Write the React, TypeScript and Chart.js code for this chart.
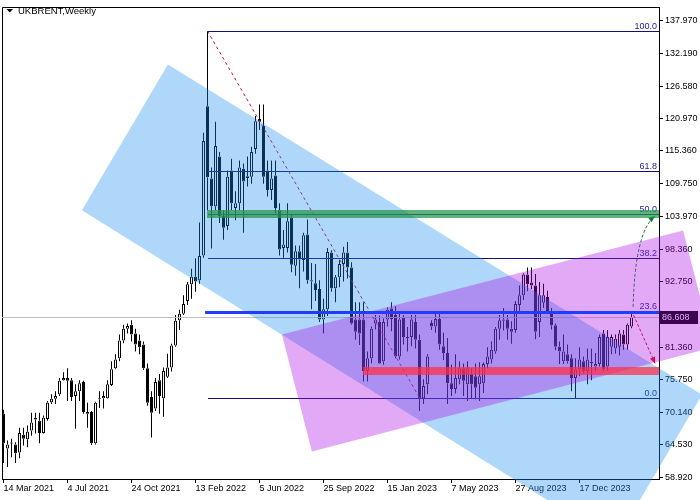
import React, { useEffect, useRef } from "react";
import { Chart, registerables } from "chart.js";
Chart.register(...registerables);

// ---- data (weekly UKBRENT, 14 Mar 2021 .. 17 Mar 2024) ----
const opens = [69.9,63.9,64.8,64.6,63.2,66.3,65.5,67.0,68.9,68.7,66.6,69.0,71.9,72.5,73.3,75.7,76.1,75.7,73.0,73.8,75.4,69.9,70.2,64.8,72.4,72.6,72.6,74.9,77.8,79.5,82.6,84.6,85.3,83.8,82.6,81.9,77.8,72.8,70.8,75.7,72.6,76.3,77.9,81.7,86.1,87.2,89.4,92.3,93.6,93.0,97.3,123.1,110.6,105.8,114.4,104.1,102.4,112.0,105.5,106.3,112.3,110.7,110.9,115.7,120.9,119.7,112.0,108.6,111.1,105.1,98.6,98.6,103.8,95.5,98.0,96.5,100.9,93.0,92.5,91.5,86.2,88.0,97.8,91.6,93.5,95.8,97.8,95.2,86.2,86.2,86.2,77.3,79.5,85.5,85.8,79.0,86.2,88.1,87.0,79.8,86.6,83.0,83.2,85.8,82.7,72.6,75.0,85.6,85.0,86.3,81.6,80.4,75.2,74.2,75.9,77.8,75.0,76.8,76.4,75.0,75.2,78.5,79.3,80.7,84.6,86.0,86.2,84.6,84.4,88.7,90.4,94.0,92.6,92.1,85.8,89.1,90.1,87.7,85.2,81.5,79.0,80.2,79.5,76.1,77.6,79.0,77.3,78.7,78.1,78.5,83.8,78.1,81.5,81.2,81.5,83.6,81.9,85.0];
const highs = [70.6,65.3,65.6,65.0,67.5,67.5,67.9,70.1,70.1,70.1,69.6,72.1,73.3,73.8,76.1,77.1,77.8,76.1,75.0,75.7,75.6,71.8,70.4,72.0,73.8,73.8,75.7,79.0,80.2,83.6,85.3,85.5,86.1,84.6,83.6,82.4,78.6,73.8,76.1,76.8,77.9,80.3,82.0,87.0,87.9,90.4,92.7,95.0,96.8,103.0,118.5,136.1,112.5,120.4,115.2,105.1,112.0,114.0,108.4,113.7,113.2,114.4,116.1,121.4,123.4,123.4,113.7,113.7,113.7,106.3,101.7,106.3,104.3,99.0,99.0,101.2,103.5,96.0,95.8,93.0,89.8,98.6,98.2,93.9,96.5,98.8,99.6,96.1,89.2,89.2,89.2,80.7,85.0,87.0,86.9,86.4,88.3,89.2,88.5,87.5,87.0,84.9,87.0,87.0,83.6,75.9,80.2,86.1,87.5,87.2,83.9,83.0,78.4,80.2,79.0,78.6,79.0,77.8,78.6,78.8,78.8,81.4,82.4,84.9,87.0,88.2,87.0,85.9,89.4,92.1,94.2,95.2,95.2,94.1,92.7,92.4,91.2,88.2,85.5,82.4,83.6,81.9,80.2,79.5,81.4,79.8,81.2,81.2,80.4,83.6,84.4,84.4,83.6,83.6,84.4,84.4,85.5,87.5];
const lows = [61.4,60.7,62.4,61.4,62.2,64.4,64.1,66.1,66.5,64.8,66.5,68.7,71.6,71.6,73.0,75.6,72.1,72.1,67.3,72.1,69.9,67.5,64.5,64.6,70.9,70.8,72.5,74.7,77.6,79.0,82.1,83.8,82.4,80.7,80.2,77.5,71.3,65.8,70.4,69.9,69.4,76.1,77.2,81.5,84.4,87.0,88.7,89.8,91.0,92.4,96.9,105.1,98.5,105.1,102.9,100.0,101.7,105.1,103.4,105.1,101.2,109.2,109.7,114.9,119.0,109.7,107.5,106.9,104.6,97.3,96.9,97.8,94.4,93.8,91.6,94.5,92.4,88.0,89.4,85.8,83.8,86.8,91.0,89.2,91.8,92.8,93.3,85.3,82.7,81.8,75.5,75.5,78.6,84.5,78.5,78.4,85.0,84.2,79.5,79.3,81.9,80.7,81.6,81.2,70.4,71.6,73.3,84.4,83.9,81.0,79.2,71.6,73.0,73.4,75.0,73.0,72.1,72.5,72.4,72.1,73.5,77.8,78.6,80.3,82.7,84.3,82.7,82.0,83.9,87.4,89.6,91.1,91.5,82.8,83.2,88.2,87.5,84.5,80.9,78.5,78.5,78.6,73.8,72.6,76.4,76.9,75.0,75.7,77.3,78.1,77.3,77.3,80.2,80.3,80.0,81.0,81.0,84.7];
const closes = [64.8,64.6,64.9,63.1,66.6,65.6,66.8,68.4,69.2,66.6,69.2,71.8,72.5,73.0,75.6,76.1,75.6,72.8,73.8,75.2,70.2,70.2,64.8,71.8,72.6,73.0,75.0,77.6,79.3,82.6,84.6,85.1,83.6,81.9,81.4,77.8,71.8,70.1,75.4,73.0,77.3,77.9,81.7,86.0,87.2,88.9,92.3,93.6,92.8,97.2,117.1,110.8,105.8,116.2,104.1,102.1,110.9,106.3,106.3,112.5,110.1,111.0,115.2,120.5,120.4,110.9,108.6,110.6,105.5,98.3,99.2,103.2,95.7,98.0,96.6,100.8,93.0,92.8,91.3,86.2,88.0,97.9,91.6,93.5,95.8,97.8,95.2,85.5,84.1,83.8,77.3,79.5,84.6,86.2,78.6,85.8,87.9,86.3,79.8,86.2,83.2,83.2,86.2,82.7,72.6,74.7,79.8,85.0,86.3,81.9,80.4,75.2,74.2,76.1,77.8,75.6,77.8,75.0,74.4,76.4,78.5,79.8,81.0,84.6,86.1,86.2,84.6,84.1,88.9,90.4,94.0,92.3,92.1,84.1,90.4,90.4,87.7,85.2,81.5,80.7,80.7,79.0,76.1,77.6,79.3,77.3,79.3,78.9,78.5,83.2,77.6,83.2,83.2,82.9,83.8,81.9,85.3,86.6];

const xTickIndex = [0, 16, 32, 48, 64, 80, 96, 112, 128, 144];
const xTickLabels = ["14 Mar 2021", "4 Jul 2021", "24 Oct 2021", "13 Feb 2022", "5 Jun 2022", "25 Sep 2022", "15 Jan 2023", "7 May 2023", "27 Aug 2023", "17 Dec 2023"];
const yTickValues = [137.97, 132.19, 126.58, 120.97, 115.36, 109.75, 103.97, 98.36, 92.75, 81.36, 75.75, 70.14, 64.53, 58.92];

const symbolTitle = "UKBRENT,Weekly";
const currentPrice = 86.608;
const fibHigh = 136.1;
const fibLow = 72.7;
const fibStartIndex = 51;
const fibEndIndex = 104;
const fibLevels = [0, 23.6, 38.2, 50, 61.8, 100];
// channels: [index, price] corners
const blueChannel = [[41.1, 130.3], [174.6, 73.2], [152.9, 47.7], [19.6, 105.1]];
const violetChannel = [[69.6, 83.6], [169.9, 101.6], [177.4, 81.4], [77.1, 63.4]];
// zones: [start index, low price, high price]
const greenZone = [50.8, 103.8, 105.1];
const redZone = [89.9, 76.6, 77.95];
// horizontal line: [start index, price]
const blueLevel = [50.4, 87.55];
// arrows: points [index, price]
const greenArrow = [[157.4, 88.4], [157.9, 101.5], [162.9, 104.1]];
const redArrow = [[157.5, 87.0], [162.9, 78.6]];

function pickFont(): string {
  const c = document.createElement("canvas").getContext("2d")!;
  c.font = "11px monospace";
  const a = c.measureText("14 Mar 2021").width;
  c.font = "11px 'Liberation Sans Narrow', monospace";
  const b = c.measureText("14 Mar 2021").width;
  if (Math.abs(a - b) > 0.5) return "11px 'Liberation Sans Narrow'";
  return "9px 'Liberation Sans'";
}

export default function App() {
  const ref = useRef<HTMLCanvasElement | null>(null);
  useEffect(() => {
    document.body.style.margin = "0";
    const fontSpec = pickFont();
    const fsize = parseFloat(fontSpec);
    const ffam = fontSpec.replace(/^[\d.]+px\s*/, "").replace(/'/g, "");
    const titleFont = fontSpec.replace(/^[\d.]+px/, (m) => (parseFloat(m) * 1.06).toFixed(1) + "px");

    const overlay = {
      id: "mtOverlay",
      afterDraw(chart: any) {
        const ctx = chart.ctx as CanvasRenderingContext2D;
        const xs = chart.scales.x, ys = chart.scales.y;
        const a = chart.chartArea;
        const X = (v: number) => xs.getPixelForValue(v);
        const Y = (v: number) => ys.getPixelForValue(v);
        const cy = (v: number) => Math.round(Y(v)) + 0.5;
        ctx.save();
        // frame (top / left)
        ctx.strokeStyle = "#000";
        ctx.lineWidth = 1;
        ctx.beginPath();
        ctx.moveTo(Math.round(a.left) + 0.5, Math.round(a.bottom) + 0.5);
        ctx.lineTo(Math.round(a.left) + 0.5, Math.round(a.top) + 0.5);
        ctx.lineTo(Math.round(a.right) + 0.5, Math.round(a.top) + 0.5);
        ctx.stroke();

        // bid line
        ctx.strokeStyle = "#c0c0c0";
        ctx.beginPath();
        ctx.moveTo(a.left, cy(currentPrice));
        ctx.lineTo(a.right, cy(currentPrice));
        ctx.stroke();

        // fibo levels
        ctx.font = fontSpec;
        ctx.textAlign = "right";
        ctx.textBaseline = "alphabetic";
        const x0 = Math.round(X(fibStartIndex));
        fibLevels.forEach((lv) => {
          const p = fibLow + (fibHigh - fibLow) * lv / 100;
          const y = cy(p);
          ctx.strokeStyle = "#10107a";
          ctx.beginPath();
          ctx.moveTo(x0, y);
          ctx.lineTo(a.right, y);
          ctx.stroke();
          ctx.fillStyle = "#1c1c9c";
          ctx.fillText(lv.toFixed(1), a.right - 2, y - 2.5);
        });
        // fibo trend line
        ctx.strokeStyle = "#c8102e";
        ctx.setLineDash([3, 3]);
        ctx.beginPath();
        ctx.moveTo(X(fibStartIndex), Y(fibHigh));
        ctx.lineTo(X(fibEndIndex), Y(fibLow));
        ctx.stroke();

        // arrows
        const head = (x: number, y: number, ang: number, col: string) => {
          ctx.setLineDash([]);
          ctx.fillStyle = col;
          ctx.beginPath();
          ctx.moveTo(x, y);
          ctx.lineTo(x - 7 * Math.cos(ang - 0.4), y - 7 * Math.sin(ang - 0.4));
          ctx.lineTo(x - 7 * Math.cos(ang + 0.4), y - 7 * Math.sin(ang + 0.4));
          ctx.closePath();
          ctx.fill();
        };
        {
          const [p0, p1, p2] = greenArrow.map(([i, v]) => [X(i), Y(v)]);
          ctx.strokeStyle = "#0a7a2a";
          ctx.setLineDash([3, 2]);
          ctx.beginPath();
          ctx.moveTo(p0[0], p0[1]);
          ctx.quadraticCurveTo(p1[0], p1[1], p2[0], p2[1]);
          ctx.stroke();
          head(p2[0], p2[1], Math.atan2(p2[1] - p1[1], p2[0] - p1[0]), "#0a7a2a");
        }
        {
          const [p0, p1] = redArrow.map(([i, v]) => [X(i), Y(v)]);
          ctx.strokeStyle = "#e01010";
          ctx.setLineDash([3, 2]);
          ctx.beginPath();
          ctx.moveTo(p0[0], p0[1]);
          ctx.lineTo(p1[0], p1[1]);
          ctx.stroke();
          head(p1[0], p1[1], Math.atan2(p1[1] - p0[1], p1[0] - p0[0]), "#e01010");
        }
        ctx.setLineDash([]);

        // title
        ctx.fillStyle = "#000";
        ctx.beginPath();
        ctx.moveTo(6.5, 9);
        ctx.lineTo(13, 9);
        ctx.lineTo(9.75, 12.5);
        ctx.closePath();
        ctx.fill();
        ctx.font = titleFont;
        ctx.textAlign = "left";
        ctx.textBaseline = "middle";
        ctx.fillText(symbolTitle, 18, 11);
        ctx.font = fontSpec;

        // current price box
        const py = Y(currentPrice);
        ctx.fillStyle = "#000";
        ctx.fillRect(a.right + 1, Math.round(py) - 6, 38, 13);
        ctx.fillStyle = "#fff";
        ctx.fillText(currentPrice.toFixed(3), a.right + 3, Math.round(py) + 0.5);

        // channels (translucent overlay)
        const poly = (pts: number[][], col: string) => {
          ctx.fillStyle = col;
          ctx.beginPath();
          pts.forEach(([i, v], k) => (k ? ctx.lineTo(X(i), Y(v)) : ctx.moveTo(X(i), Y(v))));
          ctx.closePath();
          ctx.fill();
        };
        poly(blueChannel, "rgba(26,141,241,0.35)");
        poly(violetChannel, "rgba(172,12,229,0.35)");

        // zones
        const zone = (z: number[], col: string) => {
          const yt = Math.round(Y(z[2]));
          const yb = Math.round(Y(z[1]));
          ctx.fillStyle = col;
          ctx.fillRect(Math.round(X(z[0])), yt, a.right - Math.round(X(z[0])), yb - yt);
        };
        zone(greenZone, "rgba(34,150,75,0.72)");
        zone(redZone, "rgba(254,46,70,0.72)");

        // blue level line
        ctx.strokeStyle = "#1f3cff";
        ctx.lineWidth = 3;
        ctx.beginPath();
        ctx.moveTo(X(blueLevel[0]), Math.round(Y(blueLevel[1])) + 0.5);
        ctx.lineTo(a.right, Math.round(Y(blueLevel[1])) + 0.5);
        ctx.stroke();
        ctx.restore();
      },
    };

    const upper = highs.map((h, i) => ({ x: i, y: [Math.max(opens[i], closes[i]), h] }));
    const lower = lows.map((l, i) => ({ x: i, y: [l, Math.min(opens[i], closes[i])] }));
    const bodies = opens.map((o, i) => {
      let lo = Math.min(o, closes[i]);
      let hi = Math.max(o, closes[i]);
      if (hi - lo < 0.18) { hi = (hi + lo) / 2 + 0.09; lo = hi - 0.18; }
      return { x: i, y: [lo, hi] };
    });

    const yPerPx = 1 / 5.848;
    const yMax = 137.97 + 13 * yPerPx;
    const yMin = yMax - 477 * yPerPx;
    const xMin = (2 - 3.5) / 4;
    const xMax = xMin + 657 / 4;

    const tickFont = { family: ffam, size: fsize };
    const chart = new Chart(ref.current!, {
      type: "bar",
      data: {
        datasets: [
          { data: upper as any, backgroundColor: "#000", borderWidth: 0, barThickness: 1, grouped: false, inflateAmount: 0 } as any,
          { data: lower as any, backgroundColor: "#000", borderWidth: 0, barThickness: 1, grouped: false, inflateAmount: 0 } as any,
          {
            data: bodies as any,
            backgroundColor: opens.map((o, i) => (closes[i] >= o ? "#ffffff" : "#000000")),
            borderColor: "#000",
            borderWidth: 1,
            borderSkipped: false,
            barThickness: 3,
            grouped: false,
            inflateAmount: 0,
          } as any,
        ],
      },
      options: {
        responsive: false,
        animation: false,
        devicePixelRatio: 1,
        layout: { padding: { left: 2, top: 2, right: 0, bottom: 0 } },
        plugins: { legend: { display: false }, tooltip: { enabled: false } },
        scales: {
          x: {
            type: "linear",
            min: xMin,
            max: xMax,
            offset: false,
            grid: { display: true, drawOnChartArea: false, drawTicks: true, tickLength: 4, color: "#000", offset: false },
            border: { display: true, color: "#000" },
            ticks: {
              autoSkip: false,
              maxRotation: 0,
              minRotation: 0,
              align: "start",
              padding: 0,
              color: "#000",
              font: tickFont,
              callback: (v: any) => {
                const k = xTickIndex.indexOf(Number(v));
                return k >= 0 ? xTickLabels[k] : "";
              },
            },
            afterBuildTicks: (s: any) => { s.ticks = xTickIndex.map((v) => ({ value: v })); },
            afterFit: (s: any) => { s.height = 21; },
          } as any,
          y: {
            type: "linear",
            position: "right",
            min: yMin,
            max: yMax,
            grid: { display: true, drawOnChartArea: false, drawTicks: true, tickLength: 4, color: "#000" },
            border: { display: true, color: "#000" },
            ticks: {
              padding: 2,
              color: "#000",
              font: tickFont,
              callback: (v: any) => Number(v).toFixed(3),
            },
            afterBuildTicks: (s: any) => { s.ticks = yTickValues.map((v) => ({ value: v })); },
            afterFit: (s: any) => { s.width = 41; },
          } as any,
        },
      },
      plugins: [overlay],
    });
    return () => chart.destroy();
  }, []);
  return (
    <div style={{ width: 700, height: 500, background: "#fff" }}>
      <canvas ref={ref} width={700} height={500} style={{ display: "block", width: 700, height: 500 }} />
    </div>
  );
}
